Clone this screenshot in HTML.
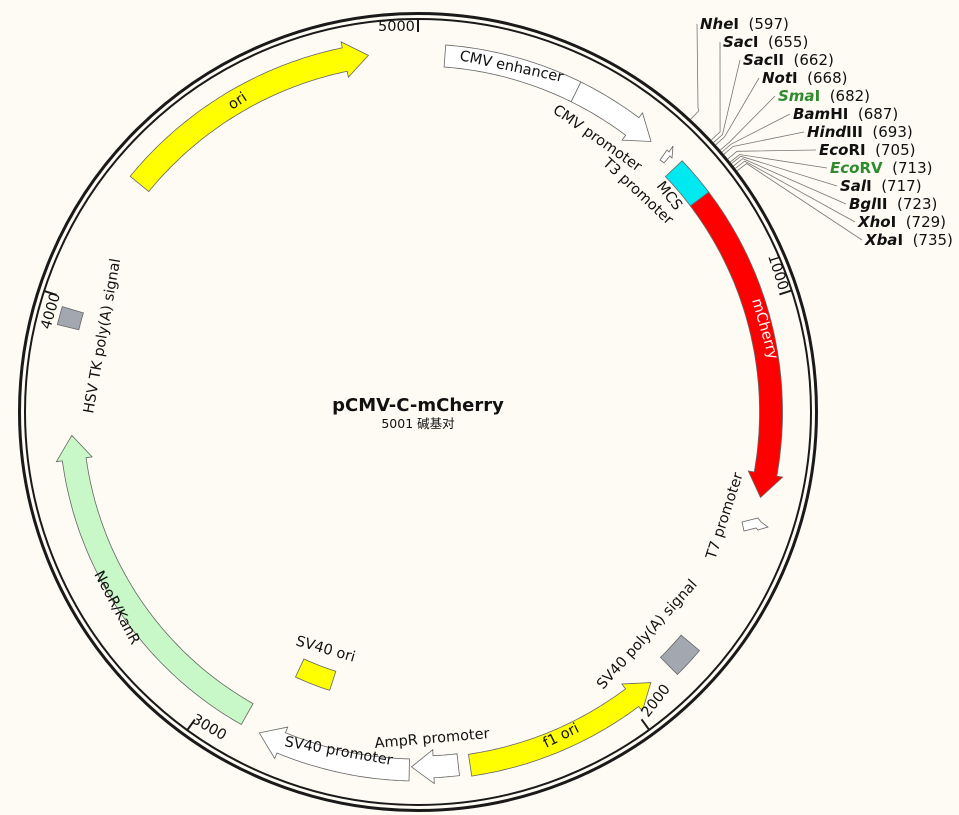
<!DOCTYPE html>
<html><head><meta charset="utf-8">
<style>
html,body{margin:0;padding:0;background:#fdfbf3;}
svg{display:block;}
text{font-family:"DejaVu Sans","Liberation Sans","Noto Sans CJK SC",sans-serif;font-size:14.5px;fill:#111;}
.re text{font-size:15px;}
.re .n{font-weight:bold;font-style:italic;}
.re .b{font-weight:bold;}
.g{fill:#2e8b2e;}
</style></head>
<body>
<svg id="s" width="959" height="815" viewBox="0 0 959 815" xmlns="http://www.w3.org/2000/svg">
<rect width="959" height="815" fill="#fdfbf3"/>
<g id="shapes"></g>
<polygon points="660,160 667,150 669,152 673,146 672,158 670,156 664,163" fill="#fff" stroke="#666" stroke-width="0.8"/>
<polygon points="742,522 758,518 761,522 768,527 758,530 756,528 744,531" fill="#fff" stroke="#666" stroke-width="0.8"/>
<circle cx="418" cy="412" r="398.5" fill="none" stroke="#1a1a1a" stroke-width="3"/>
<circle cx="418" cy="412" r="393" fill="none" stroke="#1a1a1a" stroke-width="2"/>
<g id="ticks"></g>
<g id="lines" stroke="#777" stroke-width="0.8" fill="none"></g>

<!-- center -->
<text x="418" y="411" text-anchor="middle" style="font-weight:bold;font-size:18px">pCMV-C-mCherry</text>
<text x="418" y="428" text-anchor="middle" style="font-size:12.5px">5001 碱基对</text>

<!-- tick labels -->
<text x="378" y="31">5000</text>
<text transform="translate(768,256) rotate(72)">1000</text>
<text transform="translate(648,718) rotate(-52)">2000</text>
<text transform="translate(191,722) rotate(30)">3000</text>
<text transform="translate(50,330) rotate(-74)">4000</text>

<!-- feature labels -->
<text transform="translate(459,60) rotate(12)">CMV enhancer</text>
<text transform="translate(552,112) rotate(35)">CMV promoter</text>
<text transform="translate(602,164) rotate(43)">T3 promoter</text>
<text transform="translate(656,186) rotate(52)">MCS</text>
<text transform="translate(752,300) rotate(74)" style="fill:#fff">mCherry</text>
<text transform="translate(715,560) rotate(-72)">T7 promoter</text>
<text transform="translate(603,690) rotate(-48)">SV40 poly(A) signal</text>
<text transform="translate(546,748) rotate(-26)">f1 ori</text>
<text transform="translate(375,748) rotate(-5)">AmpR promoter</text>
<text transform="translate(284,746) rotate(10)">SV40 promoter</text>
<text transform="translate(295,645) rotate(16)">SV40 ori</text>
<text transform="translate(94,574) rotate(62)">NeoR/KanR</text>
<text transform="translate(93,414) rotate(-80)">HSV TK poly(A) signal</text>
<text transform="translate(232,110) rotate(-33)">ori</text>

<!-- restriction sites -->
<g class="re">
<text x="700" y="29"><tspan class="n">Nhe</tspan><tspan class="b">I</tspan>&#160;&#160;(597)</text>
<text x="723" y="47"><tspan class="n">Sac</tspan><tspan class="b">I</tspan>&#160;&#160;(655)</text>
<text x="743" y="65"><tspan class="n">Sac</tspan><tspan class="b">II</tspan>&#160;&#160;(662)</text>
<text x="762" y="83"><tspan class="n">Not</tspan><tspan class="b">I</tspan>&#160;&#160;(668)</text>
<text x="778" y="101"><tspan class="n g">Sma</tspan><tspan class="b g">I</tspan>&#160;&#160;(682)</text>
<text x="793" y="119"><tspan class="n">Bam</tspan><tspan class="b">HI</tspan>&#160;&#160;(687)</text>
<text x="807" y="137"><tspan class="n">Hind</tspan><tspan class="b">III</tspan>&#160;&#160;(693)</text>
<text x="819" y="155"><tspan class="n">Eco</tspan><tspan class="b">RI</tspan>&#160;&#160;(705)</text>
<text x="830" y="173"><tspan class="n g">Eco</tspan><tspan class="b g">RV</tspan>&#160;&#160;(713)</text>
<text x="840" y="191"><tspan class="n">Sal</tspan><tspan class="b">I</tspan>&#160;&#160;(717)</text>
<text x="849" y="209"><tspan class="n">Bgl</tspan><tspan class="b">II</tspan>&#160;&#160;(723)</text>
<text x="858" y="227"><tspan class="n">Xho</tspan><tspan class="b">I</tspan>&#160;&#160;(729)</text>
<text x="865" y="245"><tspan class="n">Xba</tspan><tspan class="b">I</tspan>&#160;&#160;(735)</text>
</g>
</svg>
<script>
var cx=418,cy=412,N=5001,NS="http://www.w3.org/2000/svg";
function pt(p,r){var t=p/N*2*Math.PI;return [cx+r*Math.sin(t),cy-r*Math.cos(t)];}
function arc(p1,p2,r){var a=[],n=Math.max(2,Math.ceil(Math.abs(p2-p1)/8));for(var i=0;i<=n;i++)a.push(pt(p1+(p2-p1)*i/n,r));return a;}
function feat(p1,p2,r,w,fill,head,hl){
  var pts,s=p2>p1?1:-1;
  if(head){var L=(hl||22)/r*N/(2*Math.PI);var pb=p2-s*L;
    pts=arc(p1,pb,r+w/2).concat([pt(pb,r+w/2+6),pt(p2,r),pt(pb,r-w/2-6)]).concat(arc(pb,p1,r-w/2));
  } else pts=arc(p1,p2,r+w/2).concat(arc(p2,p1,r-w/2));
  var e=document.createElementNS(NS,"polygon");
  e.setAttribute("points",pts.map(function(q){return q[0].toFixed(1)+","+q[1].toFixed(1)}).join(" "));
  e.setAttribute("fill",fill);e.setAttribute("stroke","#666");e.setAttribute("stroke-width","0.8");
  document.getElementById("shapes").appendChild(e);
}
feat(60,365,357,22,"#fff",0);
feat(365,566,357,22,"#fff",1,24);
feat(645,735,353,23,"#00e8f0",0);
feat(735,1445,353,23,"#ff0000",1,24);
feat(1810,1880,357,24,"#a3a8b0",0);
feat(2384,1935,357,22,"#ffff00",1,24);
feat(2410,2515,355,22,"#fff",1,22);
feat(2520,2866,358,22,"#fff",1,24);
feat(2745,2845,282,20,"#ffff00",0);
feat(2910,3697,347,24,"#c8f7c8",1,24);
feat(3940,3980,360,22,"#a3a8b0",0);
feat(4297,4891,360,24,"#ffff00",1,24);
var tk=document.getElementById("ticks");
[0,1000,2000,3000,4000].forEach(function(p){var a=pt(p,393),b=pt(p,380);
 var l=document.createElementNS(NS,"line");l.setAttribute("x1",a[0]);l.setAttribute("y1",a[1]);l.setAttribute("x2",b[0]);l.setAttribute("y2",b[1]);
 l.setAttribute("stroke","#1a1a1a");l.setAttribute("stroke-width","2");tk.appendChild(l);});
var sites=[[597,700,29],[655,723,47],[662,743,65],[668,762,83],[682,778,101],[687,793,119],[693,807,137],[705,819,155],[713,830,173],[717,840,191],[723,849,209],[729,858,227],[735,865,245]];
var lg=document.getElementById("lines");
sites.forEach(function(s,i){var a=pt(s[0],400),b=pt(s[0],412);
 var pl=document.createElementNS(NS,"polyline");
 var ex=s[1]-3,ey=s[2]-5;
 var mid=(i==0)?[[698,108]]:[];
 var pts=[a,b].concat(mid).concat([[ex,ey]]);
 pl.setAttribute("points",pts.map(function(q){return q[0].toFixed(1)+","+q[1].toFixed(1)}).join(" "));
 lg.appendChild(pl);});
</script>
</body></html>
